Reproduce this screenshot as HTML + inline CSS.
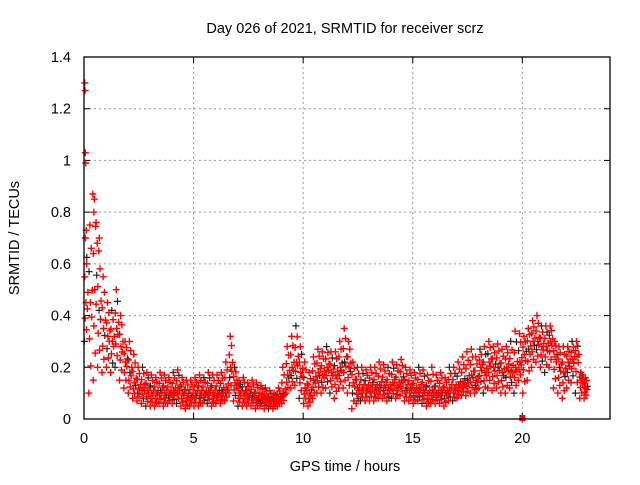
<!DOCTYPE html>
<html><head><meta charset="utf-8"><style>
body{margin:0;background:#fff;font-family:"Liberation Sans",sans-serif}
</style></head><body>
<svg id="c" width="640" height="480" xmlns="http://www.w3.org/2000/svg" font-family="Liberation Sans, sans-serif" font-size="14.5">
<rect width="640" height="480" fill="#fff"/>
<text x="345" y="33" text-anchor="middle">Day 026 of 2021, SRMTID for receiver scrz</text>
<text x="345" y="471" text-anchor="middle">GPS time / hours</text>
<text transform="translate(19,238) rotate(-90)" text-anchor="middle">SRMTID / TECUs</text>
<g id="grid"></g><g id="ticks"></g><g id="pts"></g>
<rect x="84" y="57" width="526" height="362" fill="none" stroke="#000" stroke-width="1.3"/>
</svg>
<script>
const xTicks=[0,5,10,15,20];
const yTicks=[0,0.2,0.4,0.6,0.8,1,1.2,1.4];
const yLabels=["0","0.2","0.4","0.6","0.8","1","1.2","1.4"];
const binStart=0, binWidth=0.2;
const lo=[0.3,0.1,0.15,0.2,0.18,0.2,0.18,0.2,0.15,0.12,
0.1,0.08,0.07,0.06,0.05,0.05,0.05,0.06,0.05,0.06,
0.06,0.06,0.05,0.04,0.05,0.05,0.05,0.06,0.06,0.05,
0.06,0.06,0.07,0.1,0.07,0.05,0.05,0.05,0.05,0.04,
0.05,0.04,0.04,0.04,0.05,0.06,0.1,0.12,0.13,0.08,
0.06,0.05,0.08,0.1,0.1,0.12,0.1,0.08,0.12,0.12,
0.1,0.04,0.06,0.07,0.07,0.07,0.07,0.08,0.08,0.07,
0.08,0.08,0.09,0.07,0.07,0.06,0.07,0.06,0.05,0.06,
0.06,0.06,0.05,0.07,0.07,0.08,0.09,0.09,0.1,0.1,
0.12,0.1,0.12,0.11,0.12,0.1,0.1,0.12,0.1,0.15,
0.1,0.15,0.2,0.22,0.2,0.18,0.2,0.12,0.1,0.08,
0.12,0.14,0.1,0.08,0.08];
const mid=[0.45,0.45,0.5,0.42,0.35,0.32,0.3,0.35,0.28,0.22,
0.18,0.14,0.12,0.12,0.11,0.1,0.1,0.11,0.1,0.1,
0.11,0.12,0.1,0.09,0.09,0.1,0.1,0.1,0.11,0.1,
0.1,0.11,0.12,0.2,0.14,0.1,0.1,0.09,0.09,0.08,
0.08,0.08,0.07,0.07,0.08,0.1,0.17,0.2,0.22,0.18,
0.12,0.1,0.15,0.18,0.17,0.2,0.18,0.17,0.2,0.22,
0.2,0.14,0.12,0.12,0.12,0.13,0.12,0.13,0.13,0.12,
0.14,0.13,0.15,0.12,0.12,0.11,0.12,0.11,0.1,0.11,
0.1,0.11,0.1,0.12,0.12,0.13,0.14,0.15,0.17,0.15,
0.2,0.18,0.22,0.2,0.2,0.18,0.2,0.19,0.2,0.22,
0.25,0.27,0.3,0.3,0.28,0.28,0.3,0.24,0.2,0.18,
0.22,0.23,0.24,0.15,0.12];
const hi=[0.7,0.75,0.85,0.65,0.55,0.45,0.42,0.5,0.4,0.3,
0.3,0.25,0.2,0.2,0.18,0.17,0.16,0.18,0.17,0.16,
0.18,0.19,0.16,0.15,0.15,0.16,0.17,0.16,0.18,0.17,
0.17,0.18,0.22,0.32,0.2,0.15,0.16,0.14,0.15,0.14,
0.13,0.12,0.11,0.1,0.12,0.2,0.28,0.32,0.36,0.28,
0.22,0.18,0.24,0.27,0.26,0.28,0.26,0.26,0.3,0.35,
0.3,0.22,0.2,0.2,0.19,0.2,0.2,0.22,0.21,0.2,
0.22,0.21,0.23,0.2,0.19,0.18,0.2,0.19,0.17,0.2,
0.17,0.18,0.16,0.2,0.2,0.22,0.24,0.26,0.27,0.24,
0.27,0.28,0.3,0.28,0.29,0.27,0.28,0.3,0.34,0.33,
0.32,0.35,0.38,0.4,0.36,0.36,0.36,0.3,0.28,0.28,
0.28,0.3,0.3,0.18,0.16];
const extraT=[0.03,0.05,0.06,0.08,0.1,0.12,0.4,0.45,0.55,0.6,0.7,20.0];
const extraV=[1.3,1.27,1.03,0.99,0.73,0.6,0.87,0.8,0.76,0.68,0.7,0.0];
const X=t=>84+t*(526/24), Y=v=>419-v*(362/1.4);
const NS="http://www.w3.org/2000/svg";
const grid=document.getElementById('grid'),ticks=document.getElementById('ticks'),pts=document.getElementById('pts');
function el(tag,attrs,parent){const e=document.createElementNS(NS,tag);for(const k in attrs)e.setAttribute(k,attrs[k]);parent.appendChild(e);return e;}
xTicks.forEach(t=>{const x=X(t);
 if(t>0){const g=el('line',{x1:x,x2:x,y1:57,y2:419,stroke:'#999','stroke-dasharray':'2,3'},grid);
 
 }
 const tl=el('text',{x:x,y:443,'text-anchor':'middle'},ticks);tl.textContent=t;
 
 
 el('line',{x1:x,x2:x,y1:419,y2:413,stroke:'#000'},ticks);el('line',{x1:x,x2:x,y1:57,y2:63,stroke:'#000'},ticks);});
yTicks.forEach((v,i)=>{const y=Y(v);
 if(v>0&&v<1.4){const g=el('line',{x1:84,x2:610,y1:y,y2:y,stroke:'#999','stroke-dasharray':'2,3'},grid);
 
 }
 const tl=el('text',{x:71,y:y+5,'text-anchor':'end'},ticks);tl.textContent=yLabels[i];
 
 
 el('line',{x1:84,x2:90,y1:y,y2:y,stroke:'#000'},ticks);el('line',{x1:610,x2:604,y1:y,y2:y,stroke:'#000'},ticks);});
let d='',dk='';
function plus(t,v,black){const x=X(t),y=Y(v);const s=`M${(x-3.5).toFixed(1)} ${y.toFixed(1)}h7M${x.toFixed(1)} ${(y-3.5).toFixed(1)}v7`;if(black)dk+=s;else d+=s;}
const fr=[0,0.15,0.3,0.42,0.5,0.58,0.7,0.85,1];
const off=[0.02,0.11,0.05,0.15,0.09,0.18,0.03,0.13,0.07];
mid.forEach((m,i)=>{const t=binStart+i*binWidth;
 fr.forEach((f,j)=>{const v=f<=0.5?lo[i]+(m-lo[i])*f*2:m+(hi[i]-m)*(f-0.5)*2;
  plus(t+off[j],v,(i+j)%7==0);});});
extraT.forEach((t,i)=>plus(t,extraV[i]));
const pk=el('path',{d:dk,stroke:'#222','stroke-width':1.2,fill:'none'},pts);


const pr=el('path',{d:d,stroke:'#f00','stroke-width':1.4,fill:'none'},pts);


const sq=el('rect',{x:X(20)-3,y:Y(0)-4,width:6,height:6,fill:'#f00'},pts);


</script>
</body></html>
